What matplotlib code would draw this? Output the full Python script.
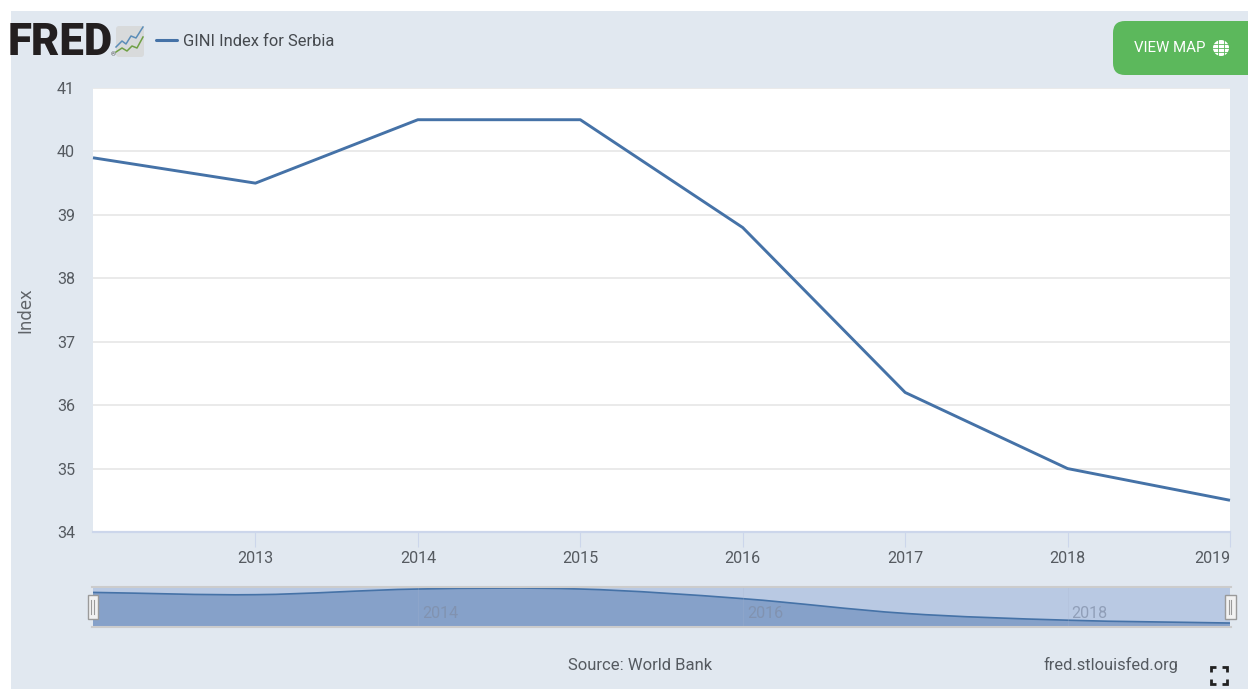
import numpy as np
import matplotlib
matplotlib.use("Agg")
import matplotlib.pyplot as plt
from matplotlib.patches import Rectangle, FancyBboxPatch, Circle, PathPatch
from matplotlib.path import Path

years = [2012, 2013, 2014, 2015, 2016, 2017, 2018, 2019]
gini = [39.9, 39.5, 40.5, 40.5, 38.8, 36.2, 35.0, 34.5]
y_ticks = [34, 35, 36, 37, 38, 39, 40, 41]
x_ticks = [2013, 2014, 2015, 2016, 2017, 2018, 2019]
nav_ticks = [2014, 2016, 2018]
title = "GINI Index for Serbia"

W, H = 1248, 689
PANEL = "#e1e8f0"
LINE = "#4572a7"
FONT = ["Roboto", "DejaVu Sans"]
TXT = "#555a60"
plt.rcParams["font.family"] = FONT

fig = plt.figure(figsize=(W / 100, H / 100), dpi=100, facecolor="white")

def px_axes(l, t, r, b, z):
    a = fig.add_axes([l / W, 1 - b / H, (r - l) / W, (b - t) / H], zorder=z)
    return a

bg = px_axes(0, 0, W, H, 0)
bg.set_xlim(0, W); bg.set_ylim(H, 0); bg.axis("off")
bg.add_patch(Rectangle((11, 11), W - 11, H - 11, fc=PANEL, ec="none"))

# main chart
ax = px_axes(93, 88, 1230, 532, 2)
ax.set_facecolor("white")
ax.plot(years, gini, color=LINE, lw=2.1, solid_joinstyle="round", solid_capstyle="butt",
        clip_on=False, zorder=3)
ax.set_xlim(2012, 2019)
ax.set_ylim(34, 41)
ax.set_yticks(y_ticks)
ax.set_xticks(x_ticks)
ax.grid(axis="y", color="#e6e6e6", lw=1.2)
ax.set_axisbelow(True)
for s in ["top", "left", "right"]:
    ax.spines[s].set_visible(False)
ax.spines["bottom"].set_color("#ccd6eb")
ax.spines["bottom"].set_linewidth(1.6)
ax.tick_params(axis="y", length=0, pad=13, labelsize=11.6, labelcolor=TXT)
ax.tick_params(axis="x", length=11, width=0.8, color="#ccd6eb", pad=2.5, labelsize=11.6, labelcolor=TXT)
xlabels = ax.get_xticklabels()
xlabels[-1].set_ha("right")
xlabels[-1].set_x(2019)

# navigator
nav = px_axes(93, 586, 1230, 627, 2)
nav.set_facecolor("#b9c9e3")
nav.set_xlim(2012, 2019)
nav.set_ylim(33.8, 41.03)
nav.set_xticks([]); nav.set_yticks([])
for s in nav.spines.values():
    s.set_visible(False)

# smooth navigator curve through the data
verts = [(years[0], gini[0])]
codes = [Path.MOVETO]
slopes = np.gradient(np.array(gini, float), np.array(years, float))
for i in range(len(years) - 1):
    d = (years[i + 1] - years[i]) / 3
    verts += [(years[i] + d, gini[i] + slopes[i] * d),
              (years[i + 1] - d, gini[i + 1] - slopes[i + 1] * d),
              (years[i + 1], gini[i + 1])]
    codes += [Path.CURVE4] * 3
fill_verts = verts + [(years[-1], 33.8), (years[0], 33.8), verts[0]]
fill_codes = codes + [Path.LINETO, Path.LINETO, Path.CLOSEPOLY]
nav.add_patch(PathPatch(Path(fill_verts, fill_codes), fc="#86a1c9", ec="none"))
nav.add_patch(PathPatch(Path(verts, codes), fc="none", ec=LINE, lw=1.2))
for yr in nav_ticks:
    nav.axvline(yr, color="#a9b6d0", lw=0.6, alpha=0.25, zorder=1)
    nav.annotate(str(yr), (yr, 33.8), xytext=(3, 4), textcoords="offset points",
                 ha="left", va="bottom", fontsize=11.6, color="#7f8da6", alpha=0.7)

fg = px_axes(0, 0, W, H, 5)
fg.set_xlim(0, W); fg.set_ylim(H, 0); fg.axis("off"); fg.patch.set_alpha(0)

# navigator frame and handles
fg.plot([92, 1231], [586.5, 586.5], color="#cccccc", lw=1.5)
fg.plot([92, 1231], [627, 627], color="#cccccc", lw=1.5)
for cx in (92.5, 1230):
    fg.add_patch(Rectangle((cx - 5, 594.5), 10.5, 24, fc="#f2f2f2", ec="#9a9a9a", lw=1.0))
    for dx in (-1.5, 1):
        fg.plot([cx + dx, cx + dx], [600, 614], color="#9a9a9a", lw=0.8)

# logo
fg.text(8, 43, "FRED", fontsize=31.5, fontweight=900, color="#231f20", va="center", ha="left",
        clip_on=True, clip_path=Rectangle((11, 0), 200, 100, transform=fg.transData))
fg.text(111, 55, "®", fontsize=4.5, color="#444444", va="center", ha="left")
fg.add_patch(FancyBboxPatch((116, 26), 28, 31, boxstyle="round,pad=0,rounding_size=3",
                            fc="#d8dadb", ec="none"))
fg.plot([116, 122, 126, 131, 136, 143], [47, 41, 44, 36, 38, 27], color="#5b8db8", lw=1.1)
fg.plot([116, 122, 127, 132, 137, 143], [52, 48, 51, 46, 48, 37], color="#6fa045", lw=1.1)

# legend
fg.plot([156, 177], [40, 40], color=LINE, lw=2.2, solid_capstyle="round")
fg.text(183, 41.5, title, fontsize=11.9, color="#45494e", va="center", ha="left")

# view map button
fg.add_patch(FancyBboxPatch((1113, 21), 150, 54, boxstyle="round,pad=0,rounding_size=12",
                            fc="#5cb85c", ec="none", clip_on=True))
fg.text(1134, 48.5, "VIEW MAP", fontsize=10.8, color="white", va="center", ha="left")
fg.add_patch(Circle((1221, 48), 8, fc="white", ec="none"))
for yy in (44, 48, 52):
    fg.plot([1213, 1229], [yy, yy], color="#5cb85c", lw=0.6)
for xx in (1218, 1224):
    fg.plot([xx, xx], [40, 56], color="#5cb85c", lw=0.6)

# axis title and credits
fg.text(25, 310, "Index", rotation=90, fontsize=12, color="#5f6368",
        family=["DejaVu Sans"], va="center", ha="center")
fg.text(640, 665, "Source: World Bank", fontsize=12, color=TXT, va="center", ha="center")
fg.text(1178, 665, "fred.stlouisfed.org", fontsize=11.8, color=TXT, va="center", ha="right")

# fullscreen icon
for x0, sx in ((1211, 1), (1227, -1)):
    for y0, sy in ((667, 1), (684, -1)):
        fg.plot([x0, x0, x0 + 5 * sx], [y0 + 5 * sy, y0, y0], color="#222222", lw=2.0,
                solid_joinstyle="miter", solid_capstyle="butt")

fig.savefig("out.png", dpi=100, facecolor="white")
